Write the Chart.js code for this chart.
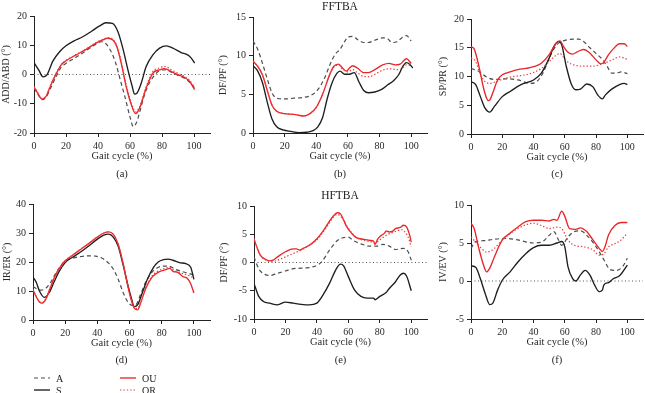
<!DOCTYPE html>
<html><head><meta charset="utf-8">
<script src="https://cdn.jsdelivr.net/npm/chart.js@4.4.1/dist/chart.umd.min.js"></script>
<style>
body{margin:0;background:#fff;width:645px;height:393px;overflow:hidden;position:relative;font-family:'Liberation Serif',serif;color:#222}
canvas{position:absolute}
.lbl{position:absolute;font-size:10.5px;transform:translate(-50%,-50%);white-space:nowrap}
.ttl{position:absolute;font-size:11.5px;transform:translate(-50%,-50%);white-space:nowrap}
.leg{position:absolute;font-size:10px;white-space:nowrap;transform:translateY(-50%)}
svg{position:absolute}
</style></head><body>
<script>
// ---------- data ----------
const gaitTicks = [0, 20, 40, 60, 80, 100];
const zeroLine = [[0, 0], [110, 0]];
const seriesNames = ['A', 'S', 'OU', 'OR'];

// (a) FFTBA ADD/ABD
const aTicks = [-20, -10, 0, 10, 20];
const aA = [[0,-4.6],[2.5,-6.8],[5,-8.6],[7.5,-7.8],[10.5,-4.5],[14,-0.5],[17,2.5],[20,3.8],[26,5.8],[33,8.3],[39,10.5],[42,11.2],[45,10.5],[48,8],[51,4],[54,-2],[57,-8],[60,-14.5],[62,-17.8],[64,-16.5],[66,-13],[69,-7],[72,-3],[75,-0.5],[78,1.2],[82,1.6],[86,0.8],[90,-0.3],[94,-1.3],[97,-2.5],[100,-4.3]];
const aS = [[0,4.1],[3,1.5],[5.6,-0.8],[8,-0.2],[11.7,4.5],[16,7.8],[20,9.8],[25,11.5],[30.5,12.9],[36,14.8],[41,16.6],[45,17.7],[49,17.5],[52.4,14.7],[55.5,9],[58.7,1.6],[61.4,-4.1],[62.8,-6.7],[64.3,-6.4],[67,-3],[70.1,2.7],[74.3,6.7],[78.5,9],[82.7,9.8],[86.8,9],[92,7.5],[96,6.7],[98.3,5.6],[100.4,3.9]];
const aOU = [[0,-4.3],[2.3,-6.4],[5,-8.4],[7.5,-7.5],[10.6,-3.5],[13.8,0.2],[17,3.3],[20,4.7],[26.3,6.7],[32.6,8.6],[38.8,10.7],[43,11.8],[46,12.4],[49.3,11.8],[51.8,9.5],[54.5,3.9],[57.6,-4.1],[60.8,-10.3],[63.5,-13.4],[66,-11.5],[70.1,-4.7],[74.3,0.5],[78.5,1.6],[81.6,2],[85.8,1],[90,-0.1],[94,-1],[97.3,-2.4],[100.4,-5.2]];
const aOR = [[0,-4],[2.3,-6.2],[5,-8.2],[7.5,-7.3],[10.6,-3.3],[13.8,0.4],[17,3.4],[20,4.8],[26.3,6.8],[32.6,8.7],[38.8,10.9],[43,12],[46,12.6],[49.3,12],[51.8,9.8],[54.5,4.5],[57.6,-3.5],[60.8,-9.6],[63.5,-12.8],[66,-11],[70.1,-4.2],[74.3,1],[78.5,2.3],[81.6,2.8],[85.8,1.6],[90,0.4],[94,-0.6],[97.3,-2],[100.4,-4.5]];

// (b) FFTBA DF/PF
const bTicks = [0, 5, 10, 15];
const bA = [[0,11.9],[3,10.8],[6,9],[9,7],[12,5.2],[15,4.5],[20,4.4],[26,4.5],[32,4.6],[37,4.9],[41,5.6],[45,7],[49,9],[52,10.2],[55,10.8],[57,11.5],[60,12.4],[63,12.5],[66,12.1],[70,11.7],[73,11.7],[77,12],[82,12.3],[85,12.2],[88,11.7],[91,11.8],[94,12.3],[97,12.6],[100,11.9]];
const bS = [[0,8.7],[3,8],[6,6.5],[9,4],[12,1.8],[15,0.8],[19,0.4],[24,0.2],[29,0.05],[34,0.1],[38,0.3],[41,0.8],[44,2],[47,4.5],[50,6.5],[53,7.7],[55,8],[58,7.6],[61,7.6],[64,7.8],[67,6.6],[70,5.5],[73,5.2],[77,5.3],[81,5.6],[85,6.2],[89,6.8],[92,7.5],[95,8.7],[97,9.1],[99,8.9],[101,8.4]];
const bOU = [[0,9.3],[3,8.6],[6,7.5],[9,5.5],[12,3.6],[15,2.8],[20,2.5],[26,2.4],[32,2.2],[36,2.5],[40,3.3],[44,5],[48,7.3],[51,8.6],[54,8.9],[57,8.3],[59,8],[61,8.4],[63,8.7],[66,8.4],[70,7.8],[73,7.8],[77,8.2],[82,8.8],[86,9],[90,8.8],[93,8.9],[97,9.6],[100,9]];
const bOR = [[0,9.3],[3,8.6],[6,7.5],[9,5.5],[12,3.6],[15,2.8],[20,2.5],[26,2.4],[32,2.2],[36,2.5],[40,3.3],[44,5],[48,7.3],[51,8.5],[54,8.8],[57,8.2],[60,7.9],[63,8.2],[66,7.8],[70,7.3],[74,7.3],[78,7.7],[83,8.2],[87,8.3],[91,8.2],[94,8.3],[97,8.8],[100,8.7]];

// (c) FFTBA SP/PR
const cTicks = [0, 5, 10, 15, 20];
const cA = [[0,11.4],[5,10.9],[10,9.9],[15,9.5],[22,9.6],[30,9.4],[38,8.8],[42,9.1],[46,10.6],[50,13.2],[53,14.8],[56,15.8],[59,16.2],[62,16.4],[66,16.5],[69,16.5],[72,16.1],[76,15],[80,14],[84,13],[87,11.8],[90,10.6],[93,10.6],[96,10.8],[100,10.5]];
const cS = [[0,9.1],[3,8.6],[6,6.5],[9,4.5],[12,3.8],[15,4.8],[20,6.5],[25,7.4],[32,8.6],[40,9.4],[45,10.6],[50,13.2],[53,15.2],[56,16.1],[58,15.5],[61,11.7],[64,8.8],[67,7.7],[70,7.8],[74,8.7],[78,8.2],[81,6.8],[84,6.1],[86,6.8],[90,7.8],[95,8.6],[98,8.8],[100,8.6]];
const cOU = [[0,15.2],[2,14.8],[4,13],[6,10.6],[8,8],[10,6.2],[11,5.8],[12,5.9],[14,7.2],[17,9.4],[20,10.3],[25,10.8],[30,11.2],[35,11.4],[40,11.7],[45,12.3],[50,13.8],[54,15.6],[57,16.2],[59,15.3],[62,14.2],[65,13.9],[68,14.3],[72,14.7],[75,14.3],[78,13.5],[81,12.6],[83,12.2],[85,12.5],[88,13.8],[91,14.8],[95,15.7],[98,15.7],[100,15.2]];
const cOR = [[0,13.2],[3,12.6],[6,10.3],[9,9.1],[12,8.8],[15,9],[20,9.5],[25,9.9],[30,10.1],[35,10.3],[40,10.7],[45,11.4],[50,12.6],[54,13.6],[57,14],[59,13.4],[62,12.5],[66,12],[72,11.8],[78,11.8],[83,12.1],[87,12.5],[91,13],[95,13.4],[100,13]];

// (d) HFTBA IR/ER
const dTicks = [0, 10, 20, 30, 40];
const dA = [[0,11.5],[3,10.6],[5,10.3],[8,11],[11,13],[14,16],[17,18.5],[20,20.3],[25,21.4],[30,21.9],[35,22.1],[39,22],[43,21.3],[47,19.6],[50,17.5],[53,14],[56,9.5],[59,6.2],[62,5],[64,5.3],[67,9],[70,13],[74,16.5],[78,18.2],[82,18.6],[85,18.5],[88,17.6],[92,16.8],[96,16.2],[100,15.5]];
const dS = [[0,14.8],[2,13],[4,10],[7,7.8],[10,9.4],[13,13],[16,16.5],[20,19.8],[25,21.8],[30,23.6],[35,25.7],[40,27.9],[44,29.3],[47,29.6],[50,28.5],[53,25.3],[56,19],[59,12],[61,7.8],[63,4.6],[65,5.2],[68,9.5],[71,14],[75,18.2],[78,20.1],[81,20.8],[84,21],[87,20.6],[91,19.8],[95,19.4],[98,18.2],[100,14]];
const dOU = [[0,10.4],[2,8],[4,6.2],[5.5,5.8],[8,7.2],[11,11.5],[14,15.5],[17,18.3],[20,20.4],[25,22.5],[30,24.5],[35,26.5],[40,28.6],[44,30],[47,30.4],[50,29.5],[53,26],[56,19.5],[59,11.5],[61,7],[63,4],[65,3.5],[67,6],[70,10.8],[74,14.8],[78,16.5],[82,17.3],[85,17.8],[87,16.8],[90,16.4],[93,15],[96,14.3],[98,12.5],[100,9.3]];
const dOR = [[0,10.6],[2,8.2],[4,6.4],[5.5,6],[8,7.4],[11,11.6],[14,15.6],[17,18.4],[20,20.5],[25,22.6],[30,24.6],[35,26.6],[40,28.7],[44,30],[47,30.3],[50,29.4],[53,26],[56,19.6],[59,11.8],[61,7.4],[63,4.4],[65,4],[67,6.4],[70,11.2],[74,15.2],[78,17],[82,17.8],[85,18.2],[88,17],[92,16.2],[96,15.5],[100,14.5]];

// (e) HFTBA DF/PF
const eTicks = [-10, -5, 0, 5, 10];
const eA = [[0,1],[3,-1.1],[7,-2.1],[10,-2.3],[15,-1.9],[20,-1.5],[25,-1.1],[30,-1],[35,-0.9],[40,-0.5],[43,0.1],[48,2.2],[53,3.9],[57,4.4],[60,4.5],[63,3.9],[68,3.3],[73,2.9],[78,2.9],[82,3.2],[86,2.9],[90,2.3],[95,2.5],[98,1.9],[100,0.4]];
const eS = [[0,-3.7],[3,-6],[6,-6.9],[10,-7.2],[15,-7.5],[20,-7],[25,-7.2],[30,-7.4],[35,-7.5],[40,-7.2],[44,-5.7],[48,-3.7],[52,-1.3],[55,-0.3],[57,-0.6],[60,-2.5],[64,-4.9],[68,-6],[72,-6.3],[76,-6.3],[77,-6.6],[80,-6],[84,-5.3],[86,-4.6],[90,-3.4],[93,-2.2],[95,-1.9],[97,-2.4],[100,-5]];
const eOU = [[0,4.2],[2,2.6],[4,1.3],[7,0.6],[10,0.3],[12,0.4],[15,1],[20,1.9],[25,2.4],[27,2.4],[29,2.2],[32,2.6],[36,3.2],[40,4.2],[44,5.6],[48,7.3],[51,8.4],[53,8.8],[55,8.6],[57,7.5],[59,6.3],[62,5.2],[65,4.4],[70,4.1],[74,3.9],[76,3.8],[77,3.2],[78.5,4.1],[81,4.8],[83,5.2],[84,5.6],[86,5.4],[88,5.5],[90,6],[93,6.2],[95,6.6],[97,6.3],[99,4.8],[100,3.6]];
const eOR = [[0,4.2],[3,1.8],[6,0.7],[9,0.3],[12,0.2],[15,0.4],[20,1],[25,1.6],[30,2.2],[35,3],[40,4],[44,5.4],[48,7],[51,8.2],[53,8.5],[56,7.9],[59,6.5],[62,5.3],[66,4.3],[70,3.9],[74,3.7],[77,3.5],[80,4],[84,4.8],[88,5.3],[91,5.6],[94,5.8],[96,5.4],[98,4.5],[100,2.8]];

// (f) HFTBA IV/EV
const fTicks = [-5, 0, 5, 10];
const fA = [[0,4.3],[3,5.2],[8,5.3],[15,5.5],[22,5.6],[30,5.4],[40,5],[45,5.1],[50,6],[53,6.5],[56,5.4],[58,4.7],[62,5.8],[66,6.5],[70,6.6],[75,5.8],[80,4.5],[85,2.8],[89,1.5],[93,1.4],[97,1.9],[100,3]];
const fS = [[0,2],[3,1.8],[6,0.3],[9,-1.6],[12,-3.1],[14,-2.9],[17,-1.2],[20,0.1],[25,1.2],[30,2.5],[35,3.6],[40,4.4],[45,4.7],[50,4.7],[55,5],[58,5.2],[60,4.5],[62,1.9],[65,0.3],[67,0],[70,0.8],[73,1.4],[76,0.8],[79,-0.5],[82,-1.4],[84,-1.2],[85,-0.5],[88,-0.2],[91,0.3],[95,0.7],[100,2.1]];
const fOU = [[0,7.6],[2,6.9],[5,4.3],[8,2.1],[10,1.2],[12,1.7],[15,3.2],[20,5.4],[25,6.3],[30,7.1],[35,7.8],[40,8],[45,8],[50,7.9],[53,8.1],[55,8],[58,9.2],[60,8.5],[63,6.9],[67,6.8],[70,7],[74,6.5],[78,5.4],[82,4.3],[84,3.9],[86,4.7],[88,6.1],[92,7.3],[96,7.7],[100,7.7]];
const fOR = [[0,5.8],[5,4.7],[10,3.8],[15,4.3],[20,5.4],[30,6.9],[40,7.6],[45,7.3],[50,6.9],[55,7.1],[58,6.9],[62,5.4],[66,4.7],[72,4.5],[78,4.1],[82,3.4],[85,3.6],[88,4.5],[92,4.9],[96,5.4],[100,6.3]];

// ---------- styles & layout ----------
const styles = {
  A:  {color:'#4d4d4d', dash:[4,3], w:1.2},
  S:  {color:'#1e1e1e', dash:[], w:1.35},
  OU: {color:'#e8262a', dash:[], w:1.35},
  OR: {color:'#ee3d3d', dash:[1.4,2], w:1.2}
};
const panels = [
  {yt:'ADD/ABD (°)', ticks:aTicks, s:[aA,aS,aOU,aOR], zero:true,  cl:0,   ct:0,   cw:215, ch:170, ax:34,  top:16,  right:210, bottom:133, tp:0, lbl:'(a)', ly:173},
  {yt:'DF/PF (°)',   ticks:bTicks, s:[bA,bS,bOU,bOR], zero:false, cl:215, ct:0,   cw:215, ch:170, ax:253, top:17,  right:427, bottom:133, tp:2, lbl:'(b)', ly:173},
  {yt:'SP/PR (°)',   ticks:cTicks, s:[cA,cS,cOU,cOR], zero:false, cl:430, ct:0,   cw:215, ch:170, ax:471, top:19,  right:643, bottom:134, tp:7, lbl:'(c)', ly:173},
  {yt:'IR/ER (°)',   ticks:dTicks, s:[dA,dS,dOU,dOR], zero:false, cl:0,   ct:185, cw:215, ch:170, ax:33,  top:204, right:210, bottom:320, tp:1, lbl:'(d)', ly:359},
  {yt:'DF/PF (°)',   ticks:eTicks, s:[eA,eS,eOU,eOR], zero:true,  cl:215, ct:185, cw:215, ch:170, ax:254, top:206, right:427, bottom:319, tp:3, lbl:'(e)', ly:359},
  {yt:'IV/EV (°)',   ticks:fTicks, s:[fA,fS,fOU,fOR], zero:true,  cl:430, ct:185, cw:215, ch:170, ax:471, top:205, right:643, bottom:319, tp:7, lbl:'(f)', ly:359}
];
const XH = 30;

Chart.defaults.font.family = "'Liberation Serif', 'Times New Roman', serif";
Chart.defaults.font.size = 10;
Chart.defaults.color = '#2a2a2a';

function addText(cls, text, x, y){
  const d = document.createElement('div');
  d.className = cls; d.textContent = text;
  d.style.left = x + 'px'; d.style.top = y + 'px';
  document.body.appendChild(d);
}

panels.forEach(p => {
  const cv = document.createElement('canvas');
  cv.width = p.cw; cv.height = p.ch;
  cv.style.left = p.cl + 'px'; cv.style.top = p.ct + 'px';
  document.body.appendChild(cv);
  const datasets = p.s.map((pts, i) => {
    const st = styles[seriesNames[i]];
    return {label: seriesNames[i], data: pts.map(([x, y]) => ({x, y})),
      borderColor: st.color, borderWidth: st.w, borderDash: st.dash,
      pointRadius: 0, fill: false, cubicInterpolationMode: 'monotone', order: 4 - i};
  });
  if (p.zero) datasets.push({label:'zero', data: zeroLine.map(([x, y]) => ({x, y})),
    borderColor:'#555', borderWidth:1, borderDash:[1,2.5], pointRadius:0, fill:false, order:10});
  const tv = p.ticks;
  new Chart(cv, {
    type: 'line',
    data: {datasets},
    options: {
      responsive: false, animation: false, devicePixelRatio: 1,
      layout: {padding: {top: p.top - p.ct, right: p.cl + p.cw - p.right, bottom: p.ct + p.ch - p.bottom - XH, left: 0}},
      plugins: {legend: {display: false}, tooltip: {enabled: false}},
      scales: {
        x: {type: 'linear', min: 0, max: 110,
          afterBuildTicks: s => { s.ticks = gaitTicks.map(v => ({value: v})); },
          afterFit: s => { s.height = XH; },
          grid: {display: true, drawOnChartArea: false, drawTicks: true, tickLength: 4, color: '#222'},
          border: {display: true, color: '#222', width: 1},
          ticks: {padding: 3, maxRotation: 0, color: '#2a2a2a', font: {size: 10}},
          title: {display: true, text: 'Gait cycle (%)', padding: 0, font: {size: 10.5}, color: '#2a2a2a'}
        },
        y: {type: 'linear', min: tv[0], max: tv[tv.length - 1],
          afterBuildTicks: s => { s.ticks = tv.map(v => ({value: v})); },
          afterFit: s => { s.width = p.ax - p.cl; },
          grid: {display: true, drawOnChartArea: false, drawTicks: true, tickLength: 4, color: '#222'},
          border: {display: true, color: '#222', width: 1},
          ticks: {padding: 3, color: '#2a2a2a', font: {size: 10}},
          title: {display: true, text: p.yt, padding: {top: p.tp, bottom: 0}, font: {size: 10}, color: '#2a2a2a'}
        }
      }
    }
  });
  addText('lbl', p.lbl, (p.ax + p.right) / 2, p.ly);
});

addText('ttl', 'FFTBA', 340, 6);
addText('ttl', 'HFTBA', 340, 195);

// legend
const legendItems = [
  {name:'A', x:34, y:378}, {name:'S', x:34, y:390},
  {name:'OU', x:120, y:378}, {name:'OR', x:120, y:390}
];
legendItems.forEach(it => {
  const st = styles[it.name];
  const svg = document.createElementNS('http://www.w3.org/2000/svg', 'svg');
  svg.setAttribute('width', 16); svg.setAttribute('height', 4);
  svg.style.left = it.x + 'px'; svg.style.top = (it.y - 2) + 'px';
  const ln = document.createElementNS('http://www.w3.org/2000/svg', 'line');
  ln.setAttribute('x1', 0); ln.setAttribute('x2', 16); ln.setAttribute('y1', 2); ln.setAttribute('y2', 2);
  ln.setAttribute('stroke', st.color); ln.setAttribute('stroke-width', st.w);
  if (st.dash.length) ln.setAttribute('stroke-dasharray', st.dash.join(' '));
  svg.appendChild(ln); document.body.appendChild(svg);
  addText('leg', it.name, it.x + 22, it.y);
});
</script>
</body></html>
